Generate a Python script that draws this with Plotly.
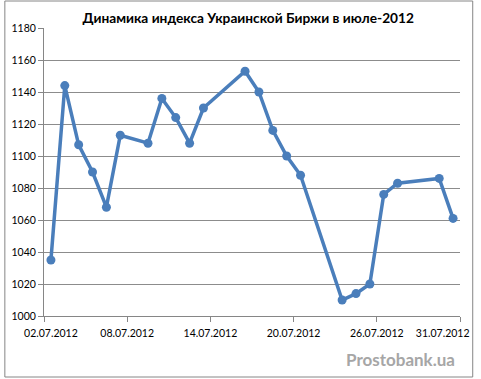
import plotly.graph_objects as go

dates = ["2012-07-02", "2012-07-03", "2012-07-04", "2012-07-05", "2012-07-06",
         "2012-07-07", "2012-07-09", "2012-07-10", "2012-07-11", "2012-07-12",
         "2012-07-13", "2012-07-16", "2012-07-17", "2012-07-18", "2012-07-19",
         "2012-07-20", "2012-07-23", "2012-07-24", "2012-07-25", "2012-07-26",
         "2012-07-27", "2012-07-30", "2012-07-31"]
values = [1035, 1144, 1107, 1090, 1068, 1113, 1108, 1136, 1124, 1108,
          1130, 1153, 1140, 1116, 1100, 1088, 1010, 1014, 1020, 1076,
          1083, 1086, 1061]

tick_mark_dates = ["2012-07-01 12:00", "2012-07-07 12:00", "2012-07-13 12:00",
                   "2012-07-19 12:00", "2012-07-25 12:00", "2012-07-31 12:00"]
tick_label_dates = ["2012-07-02 00:00", "2012-07-07 12:00", "2012-07-13 12:00",
                    "2012-07-19 12:00", "2012-07-25 12:00", "2012-07-30 06:00"]
tick_labels = ["02.07.2012", "08.07.2012", "14.07.2012", "20.07.2012",
               "26.07.2012", "31.07.2012"]

title_text = "Динамика индекса Украинской Биржи в июле-2012"
watermark = "Prostobank.ua"

FONT = "Lato"
x_range = ["2012-07-01 12:00", "2012-07-31 12:00"]

fig = go.Figure()
fig.add_trace(go.Scatter(
    x=dates, y=values, mode="lines+markers",
    line=dict(color="#4a7ebb", width=3.5),
    marker=dict(color="#4a7ebb", size=9),
    showlegend=False, hoverinfo="skip",
))
# invisible trace on the label axis
fig.add_trace(go.Scatter(x=[dates[0]], y=[values[0]], xaxis="x2", mode="markers",
                         marker=dict(opacity=0), showlegend=False, hoverinfo="skip"))

fig.update_layout(
    width=481, height=379,
    margin=dict(l=41, r=15, t=28, b=63),
    paper_bgcolor="white", plot_bgcolor="white",
    font=dict(family=FONT, size=10, color="#000000"),
    title=dict(text=f"<b>{title_text}</b>", x=0.516, xanchor="center",
               y=1 - 18.5 / 379, yanchor="middle",
               font=dict(family=FONT, size=13.7, color="#000000")),
    xaxis=dict(type="date", range=x_range, tickvals=tick_mark_dates,
               showticklabels=False, ticks="outside", ticklen=5,
               tickcolor="#868686", showline=True, linecolor="#868686",
               linewidth=1, showgrid=False, zeroline=False, fixedrange=True),
    xaxis2=dict(type="date", range=x_range, overlaying="x", side="bottom",
                tickvals=tick_label_dates, ticktext=tick_labels, ticks="",
                showline=False, showgrid=False, zeroline=False,
                tickfont=dict(family=FONT, size=10.5, color="#000000"),
                ticklabelstandoff=9),
    yaxis=dict(range=[1000, 1180], dtick=20, tick0=1000, ticks="outside",
               ticklen=5, tickcolor="#868686", showline=True,
               linecolor="#868686", linewidth=1, showgrid=True,
               gridcolor="#8c8c8c", gridwidth=1, zeroline=False,
               tickfont=dict(family=FONT, size=10.5, color="#000000"),
               fixedrange=True),
    shapes=[dict(type="rect", xref="paper", yref="paper",
                 x0=(1 - 41) / 425, x1=(479 - 41) / 425,
                 y0=(316 - 377) / 288, y1=(316 - 1) / 288,
                 line=dict(color="#868686", width=1))],
    annotations=[dict(text=f"<b>{watermark}</b>", xref="paper", yref="paper",
                      x=(463 - 41) / 425, y=(316 - 359) / 288,
                      xanchor="right", yanchor="middle", showarrow=False,
                      font=dict(family=FONT, size=17, color="#a6a6a6"))],
)

fig.write_html("out.html", config={"displayModeBar": False},
               post_script="document.body.style.margin='0';document.body.style.overflow='hidden';")
